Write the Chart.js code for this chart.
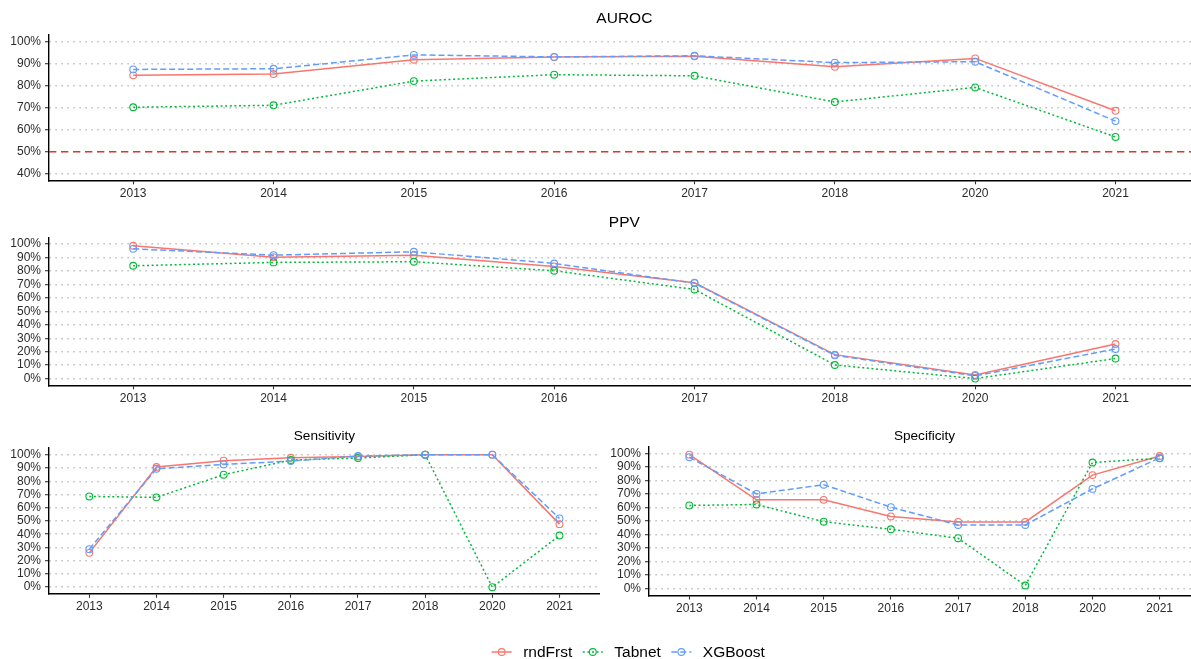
<!DOCTYPE html>
<html>
<head>
<meta charset="utf-8">
<title>Model metrics by year</title>
<script src="https://cdn.jsdelivr.net/npm/chart.js@4.4.1/dist/chart.umd.min.js"></script>
<style>
  html, body { margin: 0; padding: 0; background: #ffffff; overflow: hidden; }
  #wrap { position: relative; width: 1191px; height: 659px; overflow: hidden; }
  #wrap canvas { position: absolute; left: 0; top: 0; }
</style>
</head>
<body>
<div id="wrap">
  <canvas id="auroc"></canvas>
  <canvas id="ppv"></canvas>
  <canvas id="sens"></canvas>
  <canvas id="spec"></canvas>
</div>
<script>
// Test years (categories on every x axis)
const years = ['2013', '2014', '2015', '2016', '2017', '2018', '2020', '2021'];
const modelNames = ['rndFrst', 'Tabnet', 'XGBoost'];

// AUROC, percent
const aurocRndFrst = [84.7, 85.3, 91.8, 93.0, 93.4, 88.6, 92.4, 68.6];
const aurocTabnet  = [70.2, 71.1, 82.1, 85.0, 84.5, 72.6, 79.2, 56.7];
const aurocXGBoost = [87.4, 87.7, 94.0, 93.1, 93.6, 90.5, 90.9, 63.9];
const aurocChance  = 50;
const aurocTicks   = [40, 50, 60, 70, 80, 90, 100];

// PPV, percent
const ppvRndFrst = [98.8, 90.3, 91.8, 83.4, 71.3, 17.8, 2.7, 25.7];
const ppvTabnet  = [83.9, 86.4, 86.9, 80.2, 66.3, 10.1, 0.0, 14.9];
const ppvXGBoost = [96.5, 91.8, 94.3, 85.6, 71.0, 17.3, 2.0, 22.0];

// Sensitivity, percent
const sensRndFrst = [25.9, 90.7, 95.5, 97.7, 98.7, 100, 100, 47.6];
const sensTabnet  = [68.5, 67.8, 84.9, 96.0, 97.5, 100, 0.0, 39.0];
const sensXGBoost = [28.7, 89.4, 92.7, 95.2, 99.0, 100, 100, 51.9];

// Specificity, percent
const specRndFrst = [99.0, 65.6, 65.6, 53.4, 49.3, 49.3, 83.9, 98.0];
const specTabnet  = [61.5, 62.2, 49.5, 43.9, 37.3, 2.4, 93.2, 96.3];
const specXGBoost = [97.1, 70.0, 76.8, 60.2, 47.1, 47.1, 73.7, 96.6];

const fullTicks = [0, 10, 20, 30, 40, 50, 60, 70, 80, 90, 100];

// ---- styling ----
const FONT = '"Liberation Sans", Arial, Helvetica, sans-serif';
const CW = 1210, CH = 659;
const Y_W = 40, X_H = 26;
const LINE_W = 1.5;
const styles = {
  rndFrst: { color: '#F8766D', dash: [] },
  Tabnet:  { color: '#00BA38', dash: [2, 2.6] },
  XGBoost: { color: '#619CFF', dash: [6, 3] }
};
const drawOrder = { rndFrst: 2, Tabnet: 1, XGBoost: 0 };

function series(name, values) {
  const s = styles[name];
  return {
    label: name,
    data: values.map((v, i) => ({ x: i, y: v })),
    borderColor: s.color,
    backgroundColor: 'rgba(0,0,0,0)',
    borderWidth: LINE_W,
    borderDash: s.dash,
    pointStyle: 'circle',
    pointRadius: 3.4,
    pointBorderWidth: 1.1,
    pointBorderColor: s.color,
    pointBackgroundColor: 'rgba(0,0,0,0)',
    tension: 0,
    order: drawOrder[name]
  };
}

// Panel title, centred over the plotting area
const panelTitle = {
  id: 'panelTitle',
  afterDraw(chart, args, opts) {
    if (!opts || !opts.text) return;
    const { ctx, chartArea } = chart;
    ctx.save();
    ctx.font = opts.size + 'px ' + FONT;
    ctx.fillStyle = '#000';
    ctx.textAlign = 'center';
    ctx.textBaseline = 'middle';
    ctx.fillText(opts.text, (chartArea.left + chartArea.right) / 2, opts.y);
    ctx.restore();
  }
};

// Shared legend row under the panels
const legendRow = {
  id: 'legendRow',
  afterDraw(chart, args, opts) {
    if (!opts || !opts.show) return;
    const ctx = chart.ctx;
    let x = opts.x;
    const y = opts.y;
    ctx.save();
    ctx.font = opts.size + 'px ' + FONT;
    ctx.textBaseline = 'middle';
    ctx.textAlign = 'left';
    modelNames.forEach(name => {
      const s = styles[name];
      ctx.strokeStyle = s.color;
      ctx.lineWidth = LINE_W;
      ctx.setLineDash(s.dash);
      ctx.beginPath();
      ctx.moveTo(x, y);
      ctx.lineTo(x + 20, y);
      ctx.stroke();
      ctx.setLineDash([]);
      ctx.lineWidth = 1.1;
      ctx.beginPath();
      ctx.arc(x + 10, y, 3.4, 0, Math.PI * 2);
      ctx.stroke();
      ctx.fillStyle = '#000';
      ctx.fillText(name, x + 31.5, y + 0.5);
      x += 31.5 + ctx.measureText(name).width + 10.5;
    });
    ctx.restore();
  }
};

function makePanel(id, box, yMin, yMax, yTicks, datasets, title) {
  const canvas = document.getElementById(id);
  canvas.width = CW; canvas.height = CH;
  canvas.style.width = CW + 'px'; canvas.style.height = CH + 'px';
  return new Chart(canvas, {
    type: 'line',
    data: { datasets },
    options: {
      responsive: false,
      animation: false,
      events: [],
      layout: {
        padding: {
          left: box.L - Y_W,
          right: CW - box.R,
          top: box.T,
          bottom: CH - box.B - X_H
        }
      },
      plugins: {
        legend: { display: false },
        tooltip: { enabled: false },
        panelTitle: title,
        legendRow: box.legend || { show: false }
      },
      scales: {
        x: {
          type: 'linear',
          min: -0.6,
          max: 7.6,
          afterBuildTicks: s => { s.ticks = years.map((_, i) => ({ value: i })); },
          afterFit: s => { s.height = X_H; },
          ticks: {
            autoSkip: false,
            maxRotation: 0,
            padding: 2,
            color: '#2b2b2b',
            font: { family: FONT, size: 12 },
            callback: v => years[v]
          },
          grid: {
            drawOnChartArea: false,
            drawTicks: true,
            tickLength: 4,
            tickColor: '#333',
            tickWidth: 1.1
          },
          border: { display: true, color: '#000', width: 1.4 }
        },
        y: {
          type: 'linear',
          min: yMin,
          max: yMax,
          afterBuildTicks: s => { s.ticks = yTicks.map(v => ({ value: v })); },
          afterFit: s => { s.width = Y_W; },
          ticks: {
            autoSkip: false,
            padding: 4,
            color: '#2b2b2b',
            font: { family: FONT, size: 12 },
            callback: v => v + '%'
          },
          grid: {
            drawOnChartArea: true,
            color: '#b8b8b8',
            lineWidth: 1.4,
            drawTicks: true,
            tickLength: 4,
            tickColor: '#333',
            tickWidth: 1.1
          },
          border: { display: true, color: '#000', width: 1.4, dash: [1.4, 4.6] }
        }
      }
    },
    plugins: [panelTitle, legendRow]
  });
}

function modelSets(r, t, x) {
  return [series('rndFrst', r), series('Tabnet', t), series('XGBoost', x)];
}

// AUROC with the 50% chance reference line
const aurocSets = modelSets(aurocRndFrst, aurocTabnet, aurocXGBoost);
aurocSets.push({
  label: 'chance',
  data: [{ x: -0.6, y: aurocChance }, { x: 7.6, y: aurocChance }],
  borderColor: '#E0342E',
  borderWidth: 1.6,
  borderDash: [7, 5],
  pointRadius: 0,
  order: 5
});

makePanel('auroc', { L: 49, R: 1199.7, T: 35.1, B: 180.3 }, 37, 103, aurocTicks,
  aurocSets, { text: 'AUROC', y: 18.5, size: 15.5 });

makePanel('ppv', { L: 49, R: 1199.7, T: 237.4, B: 385.3 }, -5, 105, fullTicks,
  modelSets(ppvRndFrst, ppvTabnet, ppvXGBoost), { text: 'PPV', y: 223, size: 15.5 });

makePanel('sens', { L: 49, R: 599.8, T: 448.1, B: 593.8 }, -5, 105, fullTicks,
  modelSets(sensRndFrst, sensTabnet, sensXGBoost), { text: 'Sensitivity', y: 436, size: 13.6 });

makePanel('spec', { L: 649, R: 1200, T: 446.5, B: 595.5, legend: { show: true, x: 491.7, y: 652, size: 15.5 } },
  -5, 105, fullTicks,
  modelSets(specRndFrst, specTabnet, specXGBoost), { text: 'Specificity', y: 436, size: 13.6 });
</script>
</body>
</html>
